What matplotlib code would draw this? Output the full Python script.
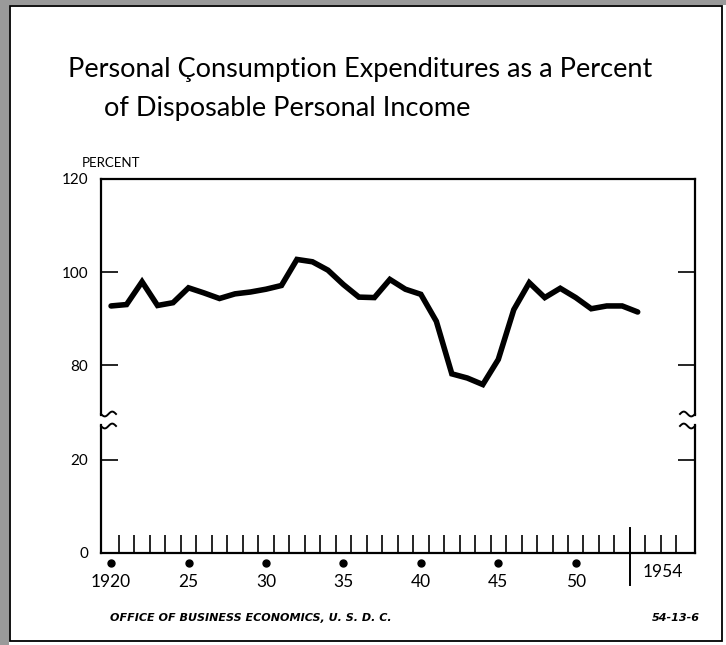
import numpy as np
import matplotlib.pyplot as plt
from matplotlib.patches import Rectangle
from matplotlib.transforms import blended_transform_factory

# data (percent)
years = list(range(1920, 1955))
pct = [92.7, 93.0, 97.9, 92.8, 93.4, 96.6, 95.5, 94.3, 95.3, 95.7,
       96.3, 97.1, 102.7, 102.2, 100.4, 97.3, 94.6, 94.5, 98.4, 96.3,
       95.2, 89.4, 78.1, 77.2, 75.8, 81.2, 91.9, 97.7, 94.5, 96.5,
       94.5, 92.1, 92.7, 92.7, 91.4]

label_years = [1920, 1925, 1930, 1935, 1940, 1945, 1950]
label_text = ['1920', '25', '30', '35', '40', '45', '50']
top_ticks = [80, 100, 120]
bot_ticks = [0, 20]

W_PX, H_PX = 726, 645
plt.rcParams['font.family'] = ['Lato', 'DejaVu Sans']

fig = plt.figure(figsize=(W_PX / 100, H_PX / 100), dpi=100)

def fx(px):
    return px / W_PX

def fy(py):
    return 1 - py / H_PX

# plot box: x 101..695 px, upper part y 179..415, lower part y 425..553
left, right = 101, 695
ax_top = fig.add_axes([fx(left), fy(415), fx(right - left), (415 - 179) / H_PX])
ax_bot = fig.add_axes([fx(left), fy(553), fx(right - left), (553 - 425) / H_PX])

xlim = (1919.35, 1957.7)
for ax in (ax_top, ax_bot):
    ax.set_xlim(*xlim)
    for s in ax.spines.values():
        s.set_linewidth(1.6)
    ax.tick_params(axis='y', direction='in', length=12, width=1.2,
                   left=True, right=True, labelsize=11, pad=9)

ax_top.spines['bottom'].set_visible(False)
ax_bot.spines['top'].set_visible(False)

ax_top.plot(years, pct, color='black', lw=4.0, solid_capstyle='round',
            solid_joinstyle='miter')
ax_top.set_ylim(69.25, 120)
ax_top.set_yticks(top_ticks)
ax_top.set_yticklabels([str(v) for v in top_ticks])
ax_top.set_xticks([])

ax_bot.set_ylim(0, 27.5)
ax_bot.set_yticks(bot_ticks)
ax_bot.set_yticklabels([str(v) for v in bot_ticks])

# year labels with dots, minor ticks at year boundaries
sep = years[-1] - 0.5
ax_bot.set_xticks(label_years)
ax_bot.set_xticklabels(label_text)
ax_bot.tick_params(axis='x', which='major', length=0, pad=15, labelsize=12.5)
minor = [y + 0.5 for y in range(years[0], 1957) if y + 0.5 != sep]
ax_bot.set_xticks(minor, minor=True)
ax_bot.tick_params(axis='x', which='minor', direction='in', length=13, width=1.2)

tr = blended_transform_factory(ax_bot.transData, ax_bot.transAxes)
ax_bot.plot(label_years, [-10 / 128] * len(label_years), 'o', color='black',
            ms=5, transform=tr, clip_on=False)
ax_bot.plot([sep, sep], [-32 / 128, 25 / 128], color='black', lw=1.4,
            transform=tr, clip_on=False)
ax_bot.text(sep + 0.8, -19 / 128, str(years[-1]), transform=tr, ha='left',
            va='center', fontsize=12.5)

# break marks on both side spines
def wiggle(x0, y0, direction):
    t = np.linspace(0, 1, 40)
    xs = x0 + direction * 15 * t
    ys = y0 + 2.4 * np.sin(t * 2 * np.pi)
    fig.add_artist(plt.Line2D(fx(xs), fy(ys), color='black', lw=1.4,
                              transform=fig.transFigure))

for x0, d in ((left, 1), (right, -1)):
    wiggle(x0, 414, d)
    wiggle(x0, 426, d)

# titles and notes
fig.text(fx(68), fy(77), 'Personal Çonsumption Expenditures as a Percent',
         fontsize=19.5, va='baseline', ha='left')
fig.text(fx(104), fy(116), 'of Disposable Personal Income',
         fontsize=19.5, va='baseline', ha='left')
fig.text(fx(82), fy(163), 'PERCENT', fontsize=9.5, va='center', ha='left')
fig.text(fx(110), fy(618), 'OFFICE OF BUSINESS ECONOMICS, U. S. D. C.',
         fontsize=8, style='italic', fontweight='bold', va='center',
         family=['DejaVu Sans'])
fig.text(fx(700), fy(618), '54-13-6', fontsize=8, style='italic',
         fontweight='bold', va='center', ha='right', family=['DejaVu Sans'])

# outer frame with a grainy left/top edge
fig.add_artist(Rectangle((fx(10), fy(641)), fx(712), (641 - 6) / H_PX,
                         fill=False, lw=1.3, edgecolor='black',
                         transform=fig.transFigure))
fig.add_artist(Rectangle((0, 0), fx(9), 1, color='#9a9a9a', lw=0,
                         transform=fig.transFigure))
fig.add_artist(Rectangle((0, fy(5)), 1, 5 / H_PX, color='#9a9a9a', lw=0,
                         transform=fig.transFigure))

fig.savefig('out.png', dpi=100)
